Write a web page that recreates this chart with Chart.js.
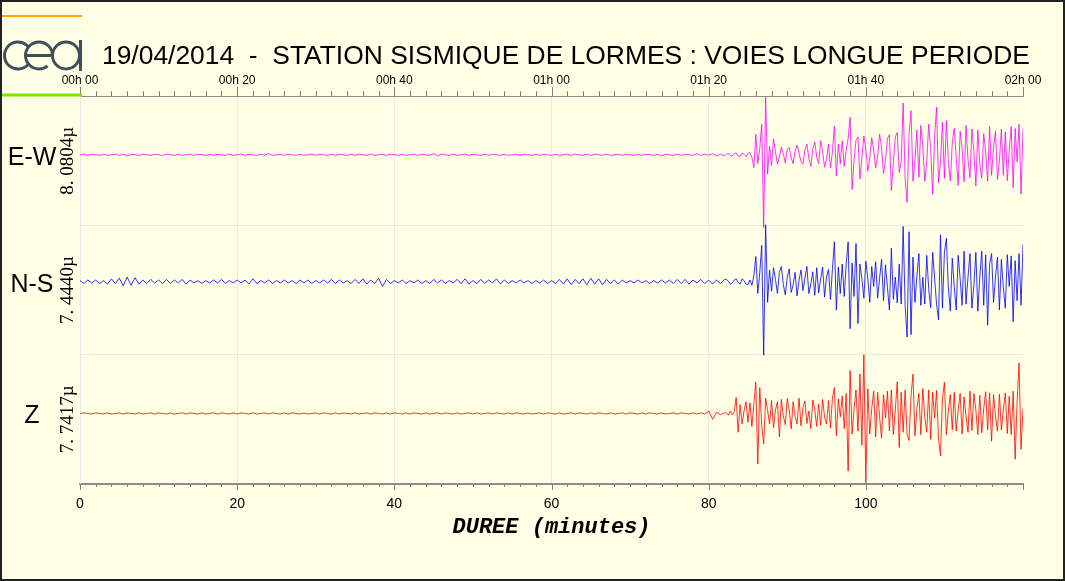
<!DOCTYPE html>
<html>
<head>
<meta charset="utf-8">
<title>Station sismique de Lormes</title>
<script src="https://cdn.jsdelivr.net/npm/chart.js@4/dist/chart.umd.min.js"></script>
<style>
  html, body { margin: 0; padding: 0; background: #ffffe6; overflow: hidden; }
  #chart { display: block; }
</style>
</head>
<body>
<canvas id="chart" width="1065" height="581"></canvas>
<script>
// channels, colours, gains
const channels = ['E-W', 'N-S', 'Z'];
const gains = ['8. 0804\u00b5', '7. 4440\u00b5', '7. 7417\u00b5'];
const traceColors = ['#ff00ff', '#0000ff', '#ff0000'];

// tick labels (every 20 minutes)
const topTickLabels = ['00h 00', '00h 20', '00h 40', '01h 00', '01h 20', '01h 40', '02h 00'];
const bottomTickLabels = ['0', '20', '40', '60', '80', '100', ''];

// sampling: quiet part 0 -> 82 min every 0.5 min, active part 82.25 -> 120 min every 0.25 min
const QUIET_STEP = 0.5;
const ACTIVE_START = 82;
const ACTIVE_STEP = 0.25;

// E-W
const ewQuiet = [
    0, 0.1, -0.1, 0.1, 0, -0.1, 0.1, -0.1, 0, 0.1, -0.1, 0.1, -0.2, 0.1, 0, -0.1, 0.1, 0, -0.1, 0.1, 0,
    -0.1, 0.1, 0, -0.1, 0.1, -0.1, 0, 0.1, -0.1, 0.1, 0, -0.1, 0.1, -0.1, 0.1, 0, -0.1, 0.1, -0.1, 0,
    0.1, -0.1, 0.1, 0, -0.1, 0.1, -0.1, 0.2, -0.1, 0, 0.1, -0.1, 0.1, 0, -0.1, 0.1, -0.1, 0, 0.1, -0.1,
    0.1, 0, -0.1, 0.1, -0.1, 0.1, 0, -0.1, 0.1, -0.1, 0.1, 0, -0.1, 0.1, -0.1, 0, 0.1, -0.1, 0.1, 0,
    -0.1, 0.1, -0.1, 0, 0.1, -0.1, 0.1, 0, -0.1, 0.2, -0.2, 0.1, 0, -0.1, 0.1, -0.1, 0, 0.1, -0.1, 0.1,
    0, -0.1, 0.1, -0.1, 0.1, 0, -0.1, 0.1, -0.1, 0, 0.1, -0.1, 0.1, 0, -0.1, 0.1, -0.1, 0.1, 0, -0.1,
    0.1, -0.1, 0, 0.1, -0.1, 0.1, 0, -0.1, 0.1, -0.1, 0.1, 0, -0.1, 0.1, -0.1, 0, 0.1, -0.1, 0.1, 0,
    -0.1, 0.1, -0.1, 0.1, 0, -0.1, 0.1, -0.2, 0.1, 0, -0.1, 0.1, -0.1, 0.1, 0, -0.1, 0.2, -0.1, 0.1, -0.1,
    0.2, -0.2, 0.1, -0.2
];
const ewActive = [
    0.1, 0.2, -0.1, -0.2,   0.2, 0.3, -0.2, -0.3,   0.3, 0.1, -0.3, 0.2,    0.4, -0.4, -2.2, 3.5,
    -1.5, 1.0, 5.2, -12.4,  9.8, -3.3, 1.5, -1.8,   2.7, 0.5, -1.6, -0.4,   1.3, 0.2, -1.4, 1.0,
    1.2, -0.5, -1.5, 0.6,   1.6, 0.3, -1.2, -1.6,   0.8, 1.8, -0.6, -2.0,   1.0, 2.2, -0.4, -1.5,
    2.4, 0.6, -2.1, -0.8,   1.8, -2.2, 0.5, 4.9,    -3.6, 1.8, -1.5, 2.4,   -2.0, 0.8, 2.8, 6.4,
    -5.9, -1.0, 2.5, 3.0,   -4.1, -0.5, 3.2, 1.0,   -2.8, -0.6, 2.9, 0.8,   -2.2, -0.4, 3.5, 1.2,
    -3.2, -1.0, 2.8, 3.4,   -6.1, -1.5, 3.0, 3.8,   -3.0, -1.2, 8.8, -4.0,  -8.1, 3.5, 7.5, -4.5,
    -1.0, 4.2, -3.8, 5.0,   1.5, -4.5, -1.2, 5.2,   1.0, -6.7, 3.0, 8.1,    -4.8, -1.2, 5.5, -4.0,
    5.8, -1.0, -4.5, 2.0,   4.5, -0.5, -5.2, 4.0,   1.0, -4.6, 5.0, -0.8,   -3.9, 4.4, 0.6, -5.3,
    4.2, -1.5, -4.0, 3.6,   0.5, -4.5, 4.8, -3.5,   1.2, 4.0, -4.2, -1.0,   4.4, -3.5, 3.9, -4.4,
    0.8, 4.8, -5.6, 4.5,    -1.2, 5.2, -6.7, 4.4
];

// N-S
const nsQuiet = [
    0.2, -0.3, 0.3, -0.2, 0.3, -0.3, 0.2, -0.4, 0.5, -0.3, 0.6, -0.7, 0.8, -0.6, 0.7, -0.4, 0.3, -0.3, 0.4, -0.2, 0.3,
    -0.3, 0.4, -0.3, 0.3, -0.2, 0.4, -0.4, 0.3, -0.2, 0.2, -0.3, 0.2, -0.2, 0.3, -0.2, 0.4, -0.3, 0.2, -0.2, 0.3,
    -0.2, 0.3, -0.4, 0.5, -0.3, 0.2, -0.2, 0.3, -0.3, 0.2, -0.2, 0.3, -0.2, 0.2, -0.3, 0.3, -0.2, 0.3, -0.3, 0.2,
    -0.2, 0.3, -0.2, 0.4, -0.3, 0.3, -0.2, 0.2, -0.3, 0.4, -0.3, 0.5, -0.4, 0.3, -0.3, 0.6, -0.8, 0.4, -0.3, 0.2,
    -0.2, 0.3, -0.3, 0.2, -0.2, 0.3, -0.3, 0.2, -0.3, 0.4, -0.2, 0.3, -0.3, 0.2, -0.2, 0.4, -0.3, 0.5, -0.4, 0.2,
    -0.3, 0.4, -0.3, 0.3, -0.2, 0.5, -0.4, 0.3, -0.3, 0.2, -0.2, 0.3, -0.2, 0.2, -0.3, 0.2, -0.2, 0.3, -0.3, 0.2,
    -0.3, 0.4, -0.4, 0.5, -0.5, 0.4, -0.3, 0.5, -0.5, 0.6, -0.4, 0.5, -0.5, 0.4, -0.3, 0.3, -0.4, 0.3, -0.2, 0.2,
    -0.2, 0.3, -0.2, 0.2, -0.3, 0.2, -0.2, 0.3, -0.2, 0.3, -0.3, 0.4, -0.3, 0.4, -0.4, 0.3, -0.2, 0.4, -0.3, 0.3,
    -0.4, 0.3, -0.3, 0.4
];
const nsActive = [
    0.4, 0.1, -0.4, -0.2,   0.3, 0.5, -0.1, -0.4,   0.5, 0.2, -0.4, -0.5,   0.3, -0.6, 1.0, 4.3,
    -2.0, 1.5, 6.2, -12.5,  9.7, -3.5, 2.0, -1.6,   2.4, 0.4, -2.0, 1.6,    2.6, -0.5, -2.2, 0.8,
    2.2, -1.8, -0.5, 1.6,   -2.4, 0.3, 2.0, -1.5,   0.6, 2.6, -2.0, -0.4,   1.7, -2.3, 2.4, -1.9,
    0.5, 2.5, -2.6, 0.8,    2.1, -3.0, 2.2, 6.8,    -4.8, 2.5, -2.0, 3.0,   -2.5, 3.0, 6.8, -8.0,
    3.2, -2.5, 6.5, -7.1,   3.0, 0.5, -2.8, 3.5,    0.6, -3.5, 2.6, -0.8,   3.4, -2.8, 0.6, 3.8,
    -3.2, 2.9, -1.0, -4.8,  5.7, -3.0, 0.8, -3.6,   3.0, -3.8, 9.4, -4.0,   -9.4, 8.5, -9.0, 4.2,
    -3.5, 1.0, 4.8, -4.0,   0.8, -3.8, 4.5, -1.2,   -4.4, 5.0, 0.6, -3.8,   -6.5, 8.0, -4.5, 5.0,
    7.4, -1.0, -5.0, 4.0,   -0.8, -4.8, 4.5, 0.5,   -4.0, 5.2, -3.8, 0.8,   4.8, -4.5, -0.6, 5.0,
    -5.0, 0.8, 5.2, -4.0,   4.6, -7.4, 3.0, 4.8,    -3.5, 0.8, 4.2, -4.8,   3.8, -1.0, -4.5, 4.6,
    -0.8, 4.4, -6.8, 3.6,   -3.2, 4.8, -4.0, 6.3
];

// Z
const zQuiet = [
    0, 0.1, 0, -0.1, 0.1, 0, -0.1, 0.1, -0.1, 0, 0.1, -0.1, 0.1, 0, -0.1, 0.1, -0.1, 0, 0.1, -0.1, 0.1,
    0, -0.1, 0.1, -0.1, 0, 0.1, -0.1, 0.1, 0, -0.1, 0.1, -0.1, 0, 0.1, -0.1, 0.1, 0, -0.1, 0.1, -0.1,
    0.1, 0, -0.1, 0.1, -0.1, 0, 0.1, -0.1, 0.1, 0, -0.1, 0.1, -0.1, 0.1, 0, -0.1, 0.1, -0.1, 0, 0.1,
    -0.1, 0.1, 0, -0.1, 0.1, -0.1, 0.1, 0, -0.1, 0.1, -0.1, 0, 0.1, -0.1, 0.1, 0, -0.1, 0.1, -0.1, 0.1,
    0, -0.1, 0.1, -0.1, 0.1, 0, -0.1, 0.1, -0.1, 0, 0.1, -0.1, 0.1, 0, -0.1, 0.1, -0.1, 0, 0.1, -0.1,
    0.1, -0.1, 0, 0.1, -0.1, 0.1, 0, -0.1, 0.1, -0.1, 0.1, 0, -0.1, 0.1, -0.1, 0, 0.1, -0.1, 0.1, 0,
    -0.1, 0.1, -0.1, 0, 0.1, -0.1, 0.1, 0, -0.1, 0.1, -0.1, 0.1, 0, -0.1, 0.1, -0.1, 0, 0.1, -0.1, 0.1,
    0, -0.1, 0.1, -0.1, 0.1, 0, -0.1, 0.1, -0.1, 0, 0.1, -0.1, 0.1, 0, -0.1, 0.1, -0.1, 0.1, -0.1, 0.4,
    -1.0, 0.2, -0.2, 0.1
];
const zActive = [
    0.1, -0.3, 0.4, -0.2,   0.3, 2.7, -3.2, 1.5,    -1.8, 0.4, 2.0, -1.5,   1.8, -2.2, 1.6, 5.3,
    -8.6, 4.4, -2.0, -5.2,  2.6, 0.5, -1.8, 2.2,    -2.4, 0.6, 2.0, -4.0,   2.4, -0.4, -1.9, 2.5,
    0.6, -2.6, 2.0, -0.5,   -1.8, 2.6, -2.1, 1.0,   2.1, -1.7, 0.4, -2.6,   2.3, 0.6, -2.2, 1.6,
    -2.0, 2.4, -0.6, -1.8,  2.2, -2.5, 2.6, 4.4,    -3.8, 2.5, -0.6, 3.0,   -2.6, 3.4, -9.8, 7.3,
    -3.5, 0.8, 4.0, -3.0,   6.7, -5.4, 10.0, -11.8, 4.2, -3.5, 0.8, 3.8,    -4.0, 3.6, -0.6, -4.2,
    3.2, -0.8, 3.8, -3.0,   4.0, -3.6, 0.6, 5.4,    -5.8, 3.6, -3.2, 4.0,   -3.5, -4.6, 3.0, 6.7,
    -3.8, 0.8, 3.4, -3.6,   4.2, -0.6, -3.2, 4.0,   -4.4, 3.6, -0.8, 3.9,   -4.2, -7.2, 2.5, 5.3,
    -3.6, 0.5, 3.2, -2.8,   3.6, -3.0, 0.6, 3.4,    -3.5, 2.8, -0.5, -3.2,  3.8, -2.9, 3.4, 0.6,
    -3.6, 3.1, -3.3, 0.8,   3.7, -2.8, 3.5, -4.7,   3.2, -0.6, -3.0, 3.3,   -2.8, 0.6, 3.5, -3.4,
    2.9, -3.6, 3.8, -7.8,   2.0, 8.6, -6.1, 0.8
];

// vertical layout: one y axis 0..66, each channel gets a band of 22
const baselines = [56, 34.4, 12];
const bandCenters = [55, 33, 11];

function toPoints(quiet, active, base) {
    const pts = quiet.map((v, i) => ({ x: i * QUIET_STEP, y: base + v }));
    active.forEach((v, i) => {
        pts.push({ x: ACTIVE_START + (i + 1) * ACTIVE_STEP, y: base + v });
    });
    return pts;
}

const traces = [[ewQuiet, ewActive], [nsQuiet, nsActive], [zQuiet, zActive]];

const datasets = traces.map((t, i) => ({
    label: channels[i],
    data: toPoints(t[0], t[1], baselines[i]),
    borderColor: traceColors[i],
    borderWidth: 0.8,
    pointRadius: 0,
    tension: 0,
    fill: false
}));

// background, frame, title, logo, channel names, tick marks
const decorPlugin = {
    id: 'decor',
    beforeDraw(chart) {
        const ctx = chart.ctx;
        ctx.save();
        ctx.fillStyle = '#ffffe6';
        ctx.fillRect(0, 0, chart.width, chart.height);
        ctx.restore();
    },
    afterDraw(chart) {
        const ctx = chart.ctx;
        const y = chart.scales.y;
        const xTop = chart.scales.xTop;
        const xBot = chart.scales.x;
        ctx.save();

        // tick marks
        ctx.strokeStyle = '#808080';
        ctx.lineWidth = 1;
        xTop.ticks.forEach(t => {
            const px = Math.round(xTop.getPixelForValue(t.value)) + 0.5;
            const len = t.value % 20 === 0 ? 9 : 5;
            ctx.beginPath();
            ctx.moveTo(px, xTop.bottom);
            ctx.lineTo(px, xTop.bottom - len);
            ctx.stroke();
        });
        xBot.ticks.forEach(t => {
            const px = Math.round(xBot.getPixelForValue(t.value)) + 0.5;
            const len = t.value % 20 === 0 ? 6 : 3;
            ctx.beginPath();
            ctx.moveTo(px, xBot.top);
            ctx.lineTo(px, xBot.top + len);
            ctx.stroke();
        });

        // channel names and gains
        ctx.fillStyle = '#000';
        channels.forEach((name, i) => {
            ctx.font = '25px "Liberation Sans", Arial, sans-serif';
            ctx.textAlign = 'center';
            ctx.textBaseline = 'middle';
            ctx.fillText(name, 32, y.getPixelForValue(baselines[i]) + 3);

            ctx.save();
            ctx.translate(68, y.getPixelForValue(bandCenters[i]));
            ctx.rotate(-Math.PI / 2);
            ctx.font = '19px "Liberation Serif", serif';
            ctx.fillText(gains[i], 0, 0);
            ctx.restore();
        });

        // title
        const title = '19/04/2014  -  STATION SISMIQUE DE LORMES : VOIES LONGUE PERIODE';
        ctx.font = '25px "Liberation Sans", Arial, sans-serif';
        const w = ctx.measureText(title).width;
        const size = 25 * 928 / w;
        ctx.font = size.toFixed(2) + 'px "Liberation Sans", Arial, sans-serif';
        ctx.textAlign = 'left';
        ctx.textBaseline = 'alphabetic';
        ctx.fillText(title, 102, 64);

        // logo lines
        ctx.lineCap = 'butt';
        ctx.strokeStyle = '#ffa500';
        ctx.lineWidth = 2;
        ctx.beginPath();
        ctx.moveTo(2, 16);
        ctx.lineTo(82, 16);
        ctx.stroke();
        ctx.strokeStyle = '#7fe600';
        ctx.lineWidth = 3;
        ctx.beginPath();
        ctx.moveTo(2, 95);
        ctx.lineTo(82, 95);
        ctx.stroke();

        // logo letters c e a
        ctx.strokeStyle = '#3f5058';
        ctx.lineWidth = 3;
        ctx.beginPath();
        ctx.arc(18, 55.5, 13.5, 0.22 * Math.PI, 1.78 * Math.PI);
        ctx.stroke();
        ctx.beginPath();
        ctx.moveTo(25.5, 55.5);
        ctx.lineTo(52.5, 55.5);
        ctx.arc(39, 55.5, 13.5, 0, 0.28 * Math.PI, true);
        ctx.stroke();
        ctx.beginPath();
        ctx.arc(66, 55.5, 13.5, 0, 2 * Math.PI);
        ctx.stroke();
        ctx.beginPath();
        ctx.moveTo(80.5, 40);
        ctx.lineTo(80.5, 71);
        ctx.stroke();

        // frame
        ctx.strokeStyle = '#222';
        ctx.lineWidth = 2;
        ctx.strokeRect(1, 1, chart.width - 2, chart.height - 2);
        ctx.restore();
    }
};

const isMajor = v => Math.abs(v % 20) < 1e-6;

new Chart(document.getElementById('chart'), {
    type: 'line',
    data: { datasets: datasets },
    options: {
        responsive: false,
        devicePixelRatio: 1,
        animation: false,
        layout: { padding: { left: 0, right: 42, top: 0, bottom: 0 } },
        plugins: {
            legend: { display: false },
            tooltip: { enabled: false }
        },
        scales: {
            x: {
                type: 'linear',
                position: 'bottom',
                min: 0,
                max: 120,
                afterFit: s => { s.height = 97; },
                border: { color: '#8c8c8c', width: 2 },
                grid: {
                    drawTicks: false,
                    color: c => (c.tick && isMajor(c.tick.value) && c.tick.value > 0 && c.tick.value < 120) ? '#ebebe0' : 'rgba(0,0,0,0)'
                },
                ticks: {
                    stepSize: 2,
                    autoSkip: false,
                    maxRotation: 0,
                    padding: 12,
                    color: '#000',
                    font: { family: '"Liberation Sans", Arial, sans-serif', size: 14 },
                    callback: v => isMajor(v) ? bottomTickLabels[Math.round(v / 20)] : ''
                },
                title: {
                    display: true,
                    text: 'DUREE (minutes)',
                    color: '#000',
                    font: { family: '"Liberation Mono", "Courier New", monospace', size: 22, weight: 'bold', style: 'italic' },
                    padding: { top: 0, bottom: 40 }
                }
            },
            xTop: {
                type: 'linear',
                position: 'top',
                min: 0,
                max: 120,
                afterFit: s => { s.height = 96; },
                border: { color: '#8c8c8c', width: 1 },
                grid: { drawOnChartArea: false, drawTicks: false },
                ticks: {
                    stepSize: 2,
                    autoSkip: false,
                    maxRotation: 0,
                    padding: 8,
                    color: '#000',
                    font: { family: '"Liberation Sans", Arial, sans-serif', size: 12 },
                    callback: v => isMajor(v) ? topTickLabels[Math.round(v / 20)] : ''
                }
            },
            y: {
                type: 'linear',
                min: 0,
                max: 66,
                afterFit: s => { s.width = 80; },
                border: { color: '#ebebe0', width: 1 },
                grid: {
                    drawTicks: false,
                    color: c => (c.tick && (c.tick.value === 22 || c.tick.value === 44)) ? '#ebebe0' : 'rgba(0,0,0,0)'
                },
                ticks: { display: false, stepSize: 22 }
            }
        }
    },
    plugins: [decorPlugin]
});
</script>
</body>
</html>
